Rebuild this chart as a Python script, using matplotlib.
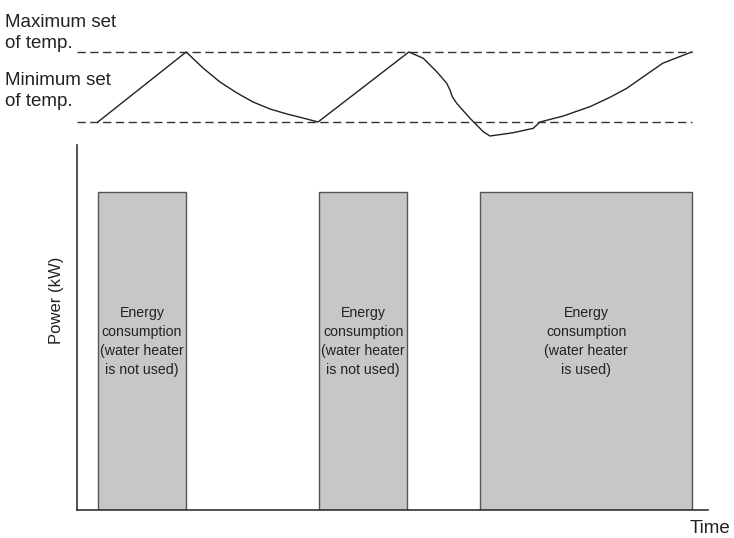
import matplotlib.pyplot as plt

plt.rcParams['font.family'] = ['Liberation Sans', 'DejaVu Sans']

# bars: start time, duration, power (arbitrary units)
bar_start = [3.3, 38.4, 63.9]
bar_width = [14.0, 13.9, 33.6]
bar_power = [1.0, 1.0, 1.0]
bar_labels = ['Energy\nconsumption\n(water heater\nis not used)',
              'Energy\nconsumption\n(water heater\nis not used)',
              'Energy\nconsumption\n(water heater\nis used)']

# indoor temperature trace, 0 = minimum set, 1 = maximum set
temp_t = [3.3, 17.3, 19.97, 22.66, 25.36, 27.89, 30.59, 33.28, 35.82, 38.2,
          52.6, 54.88, 57.0, 58.59, 59.11, 59.48, 60.17, 62.28, 64.39, 65.45,
          69.14, 72.31, 73.38, 77.07, 81.3, 84.47, 87.12, 92.82, 97.42]
temp_v = [0.0, 1.0, 0.771, 0.571, 0.414, 0.286, 0.186, 0.114, 0.057, 0.0,
          1.0, 0.91, 0.719, 0.553, 0.457, 0.361, 0.267, 0.053, -0.139, -0.2,
          -0.153, -0.09, 0.0, 0.086, 0.219, 0.353, 0.481, 0.839, 1.0]
set_min, set_max = 0.0, 1.0
set_end = 97.5

fig = plt.figure(figsize=(7.34, 5.38), dpi=100)
axis_col = '#333333'
txt_col = '#222222'

# power panel
ax = fig.add_axes([77 / 734, 1 - 510 / 538, 631 / 734, 365 / 538])
ax.bar(bar_start, bar_power, width=bar_width, align='edge',
       color='#c5c7c9', edgecolor='#555555', linewidth=1.0, zorder=2)
for s, w, lab in zip(bar_start, bar_width, bar_labels):
    ax.text(s + w / 2, 0.53, lab, ha='center', va='center',
            fontsize=10.2, color=txt_col, linespacing=1.45, zorder=3)
ax.set_xlim(0, 100)
ax.set_ylim(0, 1.148)
for side in ['top', 'right']:
    ax.spines[side].set_visible(False)
for side in ['left', 'bottom']:
    ax.spines[side].set_color(axis_col)
    ax.spines[side].set_linewidth(1.2)
ax.set_xticks([])
ax.set_yticks([])
fig.text(57 / 734, 1 - 300 / 538, 'Power (kW)', fontsize=12, color=txt_col,
         rotation=90, ha='center', va='center')
fig.text(690 / 734, 1 - 533 / 538, 'Time', fontsize=13.5, color=txt_col,
         ha='left', va='baseline')

# temperature panel
tx = fig.add_axes([77 / 734, 1 - 140 / 538, 631 / 734, 100 / 538])
tx.plot(temp_t, temp_v, color=txt_col, linewidth=1.0)
tx.plot([0, set_end], [set_max, set_max], color=axis_col, linewidth=1.0,
        dashes=(6, 3.2))
tx.plot([0, set_end], [set_min, set_min], color=axis_col, linewidth=1.0,
        dashes=(6, 3.2))
tx.set_xlim(0, 100)
tx.set_ylim(-0.257, 1.171)
tx.axis('off')

# labels anchored on the baseline of their last line
fig.text(5 / 734, 1 - 48 / 538, 'Maximum set\nof temp.', fontsize=13.5,
         color=txt_col, ha='left', va='baseline', linespacing=1.3)
fig.text(5 / 734, 1 - 106 / 538, 'Minimum set\nof temp.', fontsize=13.5,
         color=txt_col, ha='left', va='baseline', linespacing=1.3)

fig.savefig('out.png', dpi=100)
